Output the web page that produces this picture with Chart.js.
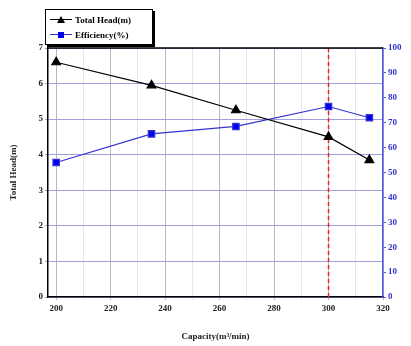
<!DOCTYPE html>
<html>
<head>
<meta charset="utf-8">
<script src="https://cdn.jsdelivr.net/npm/chart.js@4.4.1/dist/chart.umd.min.js"></script>
<style>
  html, body { margin: 0; padding: 0; background: #fff; }
  #wrap { position: relative; width: 411px; height: 346px; }
  #legend {
    position: absolute; left: 45px; top: 9px; width: 108px; height: 36px;
    border: 1px solid #000; box-shadow: 2px 2px 0 #000; background: #fff;
    font: bold 9px "Liberation Serif", serif; box-sizing: border-box; padding: 2px 4px;
  }
  .row { display: flex; align-items: center; height: 15px; }
  .sym { position: relative; width: 22px; height: 10px; margin-right: 3px; }
  .sym .ln { position: absolute; left: 0; right: 0; top: 4px; height: 1.5px; }
  .sym .tri { position: absolute; left: 7px; top: 1px; width: 0; height: 0;
    border-left: 4px solid transparent; border-right: 4px solid transparent; border-bottom: 7px solid #000; }
  .sym .sq { position: absolute; left: 8px; top: 2px; width: 6px; height: 6px; background: #0000ee; }
</style>
</head>
<body>
<div id="wrap">
  <canvas id="c" width="411" height="346"></canvas>
  <div id="legend">
    <div class="row"><span class="sym"><span class="ln" style="background:#000"></span><span class="tri"></span></span>Total Head(m)</div>
    <div class="row"><span class="sym"><span class="ln" style="background:#3333cc"></span><span class="sq"></span></span>Efficiency(%)</div>
  </div>
</div>
<script>
// values
const capacity = [200, 235, 266, 300, 315];
const totalHead = [6.6, 5.95, 5.25, 4.5, 3.85];
const efficiency = [54, 65.5, 68.5, 76.5, 72];
const markerCapacity = 300;
const headRange = [0, 7];
const capacityTicks = [200, 210, 220, 230, 240, 250, 260, 270, 280, 290, 300, 310, 320];

const font = { family: "'Liberation Serif', serif", weight: "bold", size: 9 };

const fixSize = (w, h) => (scale) => {
  if (w != null) scale.width = w;
  if (h != null) scale.height = h;
};

const borderPlugin = {
  id: "frame",
  afterDraw(chart) {
    const { ctx, chartArea: a } = chart;
    ctx.save();
    ctx.strokeStyle = "#000";
    ctx.lineWidth = 1.5;
    ctx.beginPath();
    ctx.moveTo(a.left, a.top);
    ctx.lineTo(a.right, a.top);
    ctx.stroke();
    ctx.restore();
  },
};

new Chart(document.getElementById("c"), {
  type: "line",
  data: {
    datasets: [
      {
        label: "Total Head(m)",
        data: capacity.map((x, i) => ({ x, y: totalHead[i] })),
        borderColor: "#000",
        backgroundColor: "#000",
        borderWidth: 1.2,
        pointStyle: "triangle",
        pointRadius: 5,
        yAxisID: "y",
        order: 1,
      },
      {
        label: "Efficiency(%)",
        data: capacity.map((x, i) => ({ x, y: efficiency[i] })),
        borderColor: "#3333cc",
        backgroundColor: "#0000ee",
        borderWidth: 1.2,
        pointStyle: "rect",
        pointRadius: 4.5,
        yAxisID: "y2",
        order: 2,
      },
      {
        label: "marker",
        data: headRange.map((y) => ({ x: markerCapacity, y })),
        borderColor: "#ee2222",
        borderWidth: 1.5,
        borderDash: [4, 3],
        pointRadius: 0,
        yAxisID: "y",
        order: 3,
      },
    ],
  },
  options: {
    responsive: false,
    animation: false,
    layout: { padding: { left: 4, top: 48, right: 0, bottom: 0 } },
    plugins: { legend: { display: false }, tooltip: { enabled: false } },
    scales: {
      x: {
        type: "linear",
        min: 197,
        max: 320,
        afterFit: fixSize(null, 49),
        afterBuildTicks: (scale) => {
          scale.ticks = capacityTicks.map((value) => ({ value }));
        },
        border: { color: "#000", width: 1.5 },
        grid: {
          color: (c) => (c.tick && c.tick.value % 20 === 0 ? "#b8b8c8" : "#e6e6ee"),
          tickLength: 3,
        },
        ticks: {
          color: "#222",
          font,
          padding: 3,
          callback: (v) => (v % 20 === 0 ? v : ""),
        },
        title: { display: true, text: "Capacity(m³/min)", color: "#222", font, padding: { top: 6 } },
      },
      y: {
        position: "left",
        min: 0,
        max: 7,
        afterFit: fixSize(44, null),
        border: { color: "#000", width: 1.5 },
        grid: { color: "#a0a0e0", tickLength: 3 },
        ticks: { stepSize: 1, color: "#222", font, padding: 2 },
        title: { display: true, text: "Total Head(m)", color: "#222", font, padding: { bottom: 4 } },
      },
      y2: {
        position: "right",
        min: 0,
        max: 100,
        afterFit: fixSize(28, null),
        border: { color: "#5555ee", width: 1.5 },
        grid: { drawOnChartArea: false, color: "#5555ee", tickLength: 3 },
        ticks: { stepSize: 10, color: "#3333cc", font, padding: 2 },
      },
    },
  },
  plugins: [borderPlugin],
});
</script>
</body>
</html>
